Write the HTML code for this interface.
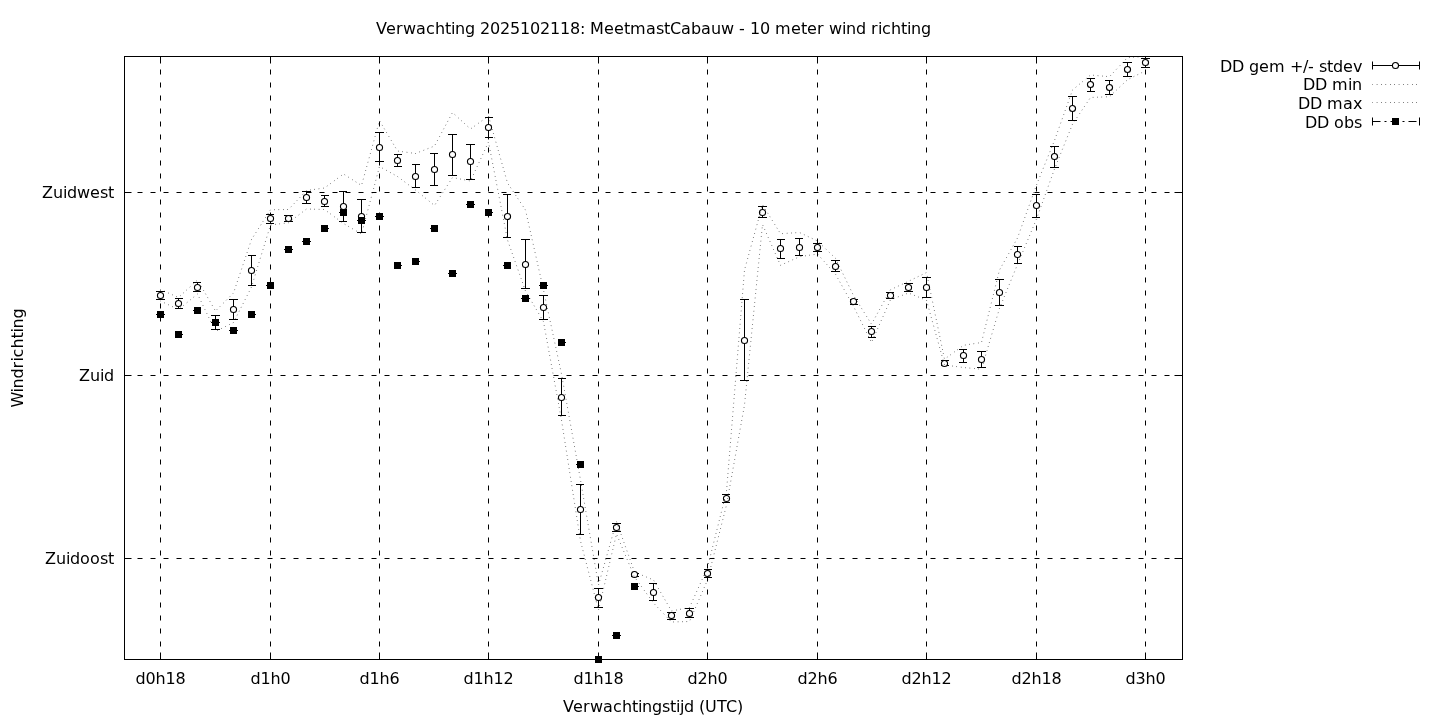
<!DOCTYPE html>
<html lang="nl"><head><meta charset="utf-8"><title>Verwachting 2025102118: MeetmastCabauw - 10 meter wind richting</title>
<style>html,body{margin:0;padding:0;background:#fff}body{width:1440px;height:720px;overflow:hidden}svg{display:block}text{font-family:"DejaVu Sans","Liberation Sans",sans-serif;font-size:16px;fill:#000}</style></head><body>
<svg width="1440" height="720" viewBox="0 0 1440 720">
<rect x="0" y="0" width="1440" height="720" fill="#fff"/>
<text x="376 386 396 403 416 426 435 445 451 455 465 475 480 490 500 510 520 530 540 550 560 570 580 585 590 604 614 624 630 646 656 664 670 681 691 701 711 721 734 739 745 750 760 770 775 791 801 807 817 824 829 842 846 856 866 871 878 882 891 901 907 911 921" y="34.3">Verwachting 2025102118: MeetmastCabauw - 10 meter wind richting</text>
<g stroke="#000" stroke-width="1" fill="none">
<g stroke-dasharray="5,8">
<path d="M160.5 659.5V56.5"/>
<path d="M270.5 659.5V56.5"/>
<path d="M379.5 659.5V56.5"/>
<path d="M488.5 659.5V56.5"/>
<path d="M598.5 659.5V56.5"/>
<path d="M707.5 659.5V56.5"/>
<path d="M817.5 659.5V56.5"/>
<path d="M926.5 659.5V56.5"/>
<path d="M1036.5 659.5V56.5"/>
<path d="M1145.5 659.5V56.5"/>
<path d="M124.5 192.5H1182.5"/>
<path d="M124.5 375.5H1182.5"/>
<path d="M124.5 558.5H1182.5"/>
</g>
<path d="M160.5 659.5v-7M160.5 56.5v7M270.5 659.5v-7M270.5 56.5v7M379.5 659.5v-7M379.5 56.5v7M488.5 659.5v-7M488.5 56.5v7M598.5 659.5v-7M598.5 56.5v7M707.5 659.5v-7M707.5 56.5v7M817.5 659.5v-7M817.5 56.5v7M926.5 659.5v-7M926.5 56.5v7M1036.5 659.5v-7M1036.5 56.5v7M1145.5 659.5v-7M1145.5 56.5v7M124.5 192.5h7M1182.5 192.5h-8M124.5 375.5h7M1182.5 375.5h-8M124.5 558.5h7M1182.5 558.5h-8"/>
</g>
<text x="135.5 145.5 155.5 165.5 175.5" y="684.3">d0h18</text>
<text x="250.5 260.5 270.5 280.5" y="684.3">d1h0</text>
<text x="359.5 369.5 379.5 389.5" y="684.3">d1h6</text>
<text x="463.5 473.5 483.5 493.5 503.5" y="684.3">d1h12</text>
<text x="573.5 583.5 593.5 603.5 613.5" y="684.3">d1h18</text>
<text x="687.5 697.5 707.5 717.5" y="684.3">d2h0</text>
<text x="797.5 807.5 817.5 827.5" y="684.3">d2h6</text>
<text x="901.5 911.5 921.5 931.5 941.5" y="684.3">d2h12</text>
<text x="1011.5 1021.5 1031.5 1041.5 1051.5" y="684.3">d2h18</text>
<text x="1125.5 1135.5 1145.5 1155.5" y="684.3">d3h0</text>
<text x="42 53 63 67 77 90 100 108" y="198.3">Zuidwest</text>
<text x="79 90 100 104" y="381.3">Zuid</text>
<text x="45 56 66 70 80 90 100 108" y="564.3">Zuidoost</text>
<text x="-49.5 -34.5 -30.5 -20.5 -10.5 -3.5 0.5 9.5 19.5 25.5 29.5 39.5" y="0" transform="translate(23 358) rotate(-90)">Windrichting</text>
<text x="563.1 573.1 583.1 590.1 603.1 613.1 622.1 632.1 638.1 642.1 652.1 662.1 670.1 676.1 680.1 684.1 694.1 699.1 705.1 717.1 726.1 737.1" y="712">Verwachtingstijd (UTC)</text>
<path d="M160.5 291.5V299.5M156 291.5H165M156 299.5H165M178.5 298.5V308.5M175 298.5H183M175 308.5H183M197.5 282.5V291.5M193 282.5H201M193 291.5H201M215.5 315.5V329.5M211 315.5H220M211 329.5H220M233.5 299.5V319.5M229 299.5H238M229 319.5H238M251.5 255.5V285.5M248 255.5H256M248 285.5H256M270.5 214.5V223.5M266 214.5H274M266 223.5H274M288.5 215.5V221.5M284 215.5H293M284 221.5H293M306.5 191.5V203.5M302 191.5H311M302 203.5H311M324.5 195.5V206.5M321 195.5H329M321 206.5H329M343.5 191.5V221.5M339 191.5H347M339 221.5H347M361.5 199.5V232.5M357 199.5H366M357 232.5H366M379.5 132.5V161.5M375 132.5H384M375 161.5H384M397.5 154.5V166.5M394 154.5H402M394 166.5H402M415.5 164.5V187.5M412 164.5H420M412 187.5H420M434.5 153.5V185.5M430 153.5H438M430 185.5H438M452.5 134.5V175.5M448 134.5H457M448 175.5H457M470.5 144.5V179.5M466 144.5H475M466 179.5H475M488.5 117.5V137.5M485 117.5H493M485 137.5H493M507.5 194.5V237.5M503 194.5H511M503 237.5H511M525.5 239.5V288.5M521 239.5H530M521 288.5H530M543.5 295.5V319.5M539 295.5H548M539 319.5H548M561.5 378.5V415.5M558 378.5H566M558 415.5H566M580.5 484.5V534.5M576 484.5H584M576 534.5H584M598.5 588.5V607.5M594 588.5H603M594 607.5H603M616.5 523.5V531.5M612 523.5H621M612 531.5H621M634.5 573.5V576.5M631 573.5H639M631 576.5H639M653.5 583.5V600.5M649 583.5H657M649 600.5H657M671.5 612.5V619.5M667 612.5H676M667 619.5H676M689.5 608.5V617.5M685 608.5H694M685 617.5H694M707.5 569.5V577.5M704 569.5H712M704 577.5H712M726.5 494.5V502.5M722 494.5H730M722 502.5H730M744.5 299.5V380.5M740 299.5H749M740 380.5H749M762.5 206.5V217.5M758 206.5H767M758 217.5H767M780.5 239.5V258.5M777 239.5H785M777 258.5H785M799.5 238.5V255.5M795 238.5H803M795 255.5H803M817.5 243.5V251.5M813 243.5H822M813 251.5H822M835.5 260.5V271.5M831 260.5H840M831 271.5H840M853.5 299.5V304.5M850 299.5H858M850 304.5H858M871.5 326.5V337.5M868 326.5H876M868 337.5H876M890.5 292.5V298.5M886 292.5H894M886 298.5H894M908.5 283.5V291.5M904 283.5H913M904 291.5H913M926.5 277.5V297.5M922 277.5H931M922 297.5H931M944.5 360.5V365.5M941 360.5H949M941 365.5H949M963.5 349.5V362.5M959 349.5H967M959 362.5H967M981.5 351.5V367.5M977 351.5H986M977 367.5H986M999.5 279.5V305.5M995 279.5H1004M995 305.5H1004M1017.5 246.5V263.5M1014 246.5H1022M1014 263.5H1022M1036.5 194.5V217.5M1032 194.5H1040M1032 217.5H1040M1054.5 146.5V167.5M1050 146.5H1059M1050 167.5H1059M1072.5 96.5V120.5M1068 96.5H1077M1068 120.5H1077M1090.5 78.5V91.5M1087 78.5H1095M1087 91.5H1095M1109.5 80.5V94.5M1105 80.5H1113M1105 94.5H1113M1127.5 62.5V76.5M1123 62.5H1132M1123 76.5H1132M1145.5 58.5V67.5M1141 58.5H1150M1141 67.5H1150" stroke="#000" stroke-width="1" fill="none"/>
<g fill="#fff" stroke="#000" stroke-width="1.1">
<circle cx="160.5" cy="295.5" r="3.05"/>
<circle cx="178.5" cy="303.5" r="3.05"/>
<circle cx="197.5" cy="287.5" r="3.05"/>
<circle cx="215.5" cy="322.5" r="3.05"/>
<circle cx="233.5" cy="309.5" r="3.05"/>
<circle cx="251.5" cy="270.5" r="3.05"/>
<circle cx="270.5" cy="218.5" r="3.05"/>
<circle cx="288.5" cy="218.5" r="3.05"/>
<circle cx="306.5" cy="197.5" r="3.05"/>
<circle cx="324.5" cy="201.5" r="3.05"/>
<circle cx="343.5" cy="206.5" r="3.05"/>
<circle cx="361.5" cy="216.5" r="3.05"/>
<circle cx="379.5" cy="147.5" r="3.05"/>
<circle cx="397.5" cy="160.5" r="3.05"/>
<circle cx="415.5" cy="176.5" r="3.05"/>
<circle cx="434.5" cy="169.5" r="3.05"/>
<circle cx="452.5" cy="154.5" r="3.05"/>
<circle cx="470.5" cy="161.5" r="3.05"/>
<circle cx="488.5" cy="127.5" r="3.05"/>
<circle cx="507.5" cy="216.5" r="3.05"/>
<circle cx="525.5" cy="264.5" r="3.05"/>
<circle cx="543.5" cy="307.5" r="3.05"/>
<circle cx="561.5" cy="397.5" r="3.05"/>
<circle cx="580.5" cy="509.5" r="3.05"/>
<circle cx="598.5" cy="597.5" r="3.05"/>
<circle cx="616.5" cy="527.5" r="3.05"/>
<circle cx="634.5" cy="574.5" r="3.05"/>
<circle cx="653.5" cy="592.5" r="3.05"/>
<circle cx="671.5" cy="615.5" r="3.05"/>
<circle cx="689.5" cy="613.5" r="3.05"/>
<circle cx="707.5" cy="573.5" r="3.05"/>
<circle cx="726.5" cy="498.5" r="3.05"/>
<circle cx="744.5" cy="340.5" r="3.05"/>
<circle cx="762.5" cy="212.5" r="3.05"/>
<circle cx="780.5" cy="248.5" r="3.05"/>
<circle cx="799.5" cy="247.5" r="3.05"/>
<circle cx="817.5" cy="247.5" r="3.05"/>
<circle cx="835.5" cy="266.5" r="3.05"/>
<circle cx="853.5" cy="301.5" r="3.05"/>
<circle cx="871.5" cy="331.5" r="3.05"/>
<circle cx="890.5" cy="295.5" r="3.05"/>
<circle cx="908.5" cy="287.5" r="3.05"/>
<circle cx="926.5" cy="287.5" r="3.05"/>
<circle cx="944.5" cy="363.5" r="3.05"/>
<circle cx="963.5" cy="355.5" r="3.05"/>
<circle cx="981.5" cy="359.5" r="3.05"/>
<circle cx="999.5" cy="292.5" r="3.05"/>
<circle cx="1017.5" cy="254.5" r="3.05"/>
<circle cx="1036.5" cy="205.5" r="3.05"/>
<circle cx="1054.5" cy="156.5" r="3.05"/>
<circle cx="1072.5" cy="108.5" r="3.05"/>
<circle cx="1090.5" cy="84.5" r="3.05"/>
<circle cx="1109.5" cy="87.5" r="3.05"/>
<circle cx="1127.5" cy="69.5" r="3.05"/>
<circle cx="1145.5" cy="62.5" r="3.05"/>
</g>
<g fill="none" stroke="#000" stroke-width="1" stroke-dasharray="0.5,3.9" stroke-dashoffset="0.1">
<polyline points="160.5,301 178.5,309.5 197.5,294 215.5,331.5 233.5,322.5 251.5,287 270.5,225 288.5,222.75 306.5,209 324.5,209.5 343.5,223.5 361.5,234 379.5,166.5 397.5,176.5 415.5,190 434.5,205.5 452.5,177.5 470.5,181 488.5,142 507.5,240 525.5,291 543.5,321.7 561.5,420 580.5,541 598.5,610 616.5,534 634.5,577 653.5,603 671.5,622 689.5,621.5 707.5,580 726.5,505 744.5,405 762.5,224.5 780.5,265.3 799.5,256.7 817.5,254 835.5,274.2 853.5,306.3 871.5,342.5 890.5,299.7 908.5,293 926.5,300.3 944.5,365 963.5,367.5 981.5,369.2 999.5,308.3 1017.5,264.5 1036.5,219 1054.5,169 1072.5,124.2 1090.5,97.5 1109.5,96.7 1127.5,79.7 1145.5,70.8"/>
<polyline points="160.5,289.5 178.5,297.5 197.5,280 215.5,311 233.5,293 251.5,239.5 270.5,209.75 288.5,209.5 306.5,190.5 324.5,188 343.5,174 361.5,185.5 379.5,120.6 397.5,151 415.5,153.5 434.5,146 452.5,112.5 470.5,129 488.5,116 507.5,183 525.5,210 543.5,290 561.5,374 580.5,480 598.5,585 616.5,521.5 634.5,572 653.5,580 671.5,611 689.5,607.5 707.5,567.5 726.5,491.5 744.5,270 762.5,204.7 780.5,233.7 799.5,232.5 817.5,241 835.5,258.3 853.5,295.5 871.5,324.2 890.5,289.7 908.5,281.3 926.5,272.5 944.5,359.2 963.5,345.3 981.5,342.5 999.5,270 1017.5,238 1036.5,185 1054.5,140.5 1072.5,90 1090.5,75 1109.5,76.7 1127.5,57.5 1145.5,56.5"/>
</g>
<path d="M156 314.5H165M175 334.5H183M193 310.5H201M211 322.5H220M229 330.5H238M248 314.5H256M266 285.5H274M284 249.5H293M302 241.5H311M321 228.5H329M339 212.5H347M357 220.5H366M375 216.5H384M394 265.5H402M412 261.5H420M430 228.5H438M448 273.5H457M466 204.5H475M485 212.5H493M503 265.5H511M521 298.5H530M539 285.5H548M558 342.5H566M576 464.5H584M594 659.5H603M612 635.5H621M631 586.5H639" stroke="#000" stroke-width="1" fill="none"/>
<path d="M157.0 311.0h7v7h-7zM175.0 331.0h7v7h-7zM194.0 307.0h7v7h-7zM212.0 319.0h7v7h-7zM230.0 327.0h7v7h-7zM248.0 311.0h7v7h-7zM267.0 282.0h7v7h-7zM285.0 246.0h7v7h-7zM303.0 238.0h7v7h-7zM321.0 225.0h7v7h-7zM340.0 209.0h7v7h-7zM358.0 217.0h7v7h-7zM376.0 213.0h7v7h-7zM394.0 262.0h7v7h-7zM412.0 258.0h7v7h-7zM431.0 225.0h7v7h-7zM449.0 270.0h7v7h-7zM467.0 201.0h7v7h-7zM485.0 209.0h7v7h-7zM504.0 262.0h7v7h-7zM522.0 295.0h7v7h-7zM540.0 282.0h7v7h-7zM558.0 339.0h7v7h-7zM577.0 461.0h7v7h-7zM595.0 656.0h7v7h-7zM613.0 632.0h7v7h-7zM631.0 583.0h7v7h-7z" fill="#000"/>
<rect x="124.5" y="56.5" width="1058.0" height="603.0" fill="none" stroke="#000" stroke-width="1"/>
<text x="1220 1232 1244 1249 1259 1269 1285 1290 1303 1308 1314 1319 1327 1333 1343 1353" y="72">DD gem +/- stdev</text>
<text x="1303 1315 1327 1332 1348 1352" y="90">DD min</text>
<text x="1298 1310 1322 1327 1343 1353" y="109">DD max</text>
<text x="1305 1317 1329 1334 1344 1354" y="128">DD obs</text>
<path d="M1372.5 65.5H1419.5M1372.5 61.5v8M1419.5 61.5v8" stroke="#000" fill="none"/>
<circle cx="1395.5" cy="65.5" r="3.05" fill="#fff" stroke="#000" stroke-width="1.1"/>
<path d="M1372.5 84.5H1419.5M1372.5 102.5H1419.5" stroke="#000" stroke-dasharray="0.5,3.9" stroke-dashoffset="0.1" fill="none"/>
<path d="M1372.5 121.5H1419.5" stroke="#000" stroke-dasharray="8,4,2,4" fill="none"/>
<path d="M1372.5 117.5v8M1419.5 117.5v8" stroke="#000" fill="none"/>
<rect x="1392" y="118.0" width="7" height="7" fill="#000"/>
</svg></body></html>
